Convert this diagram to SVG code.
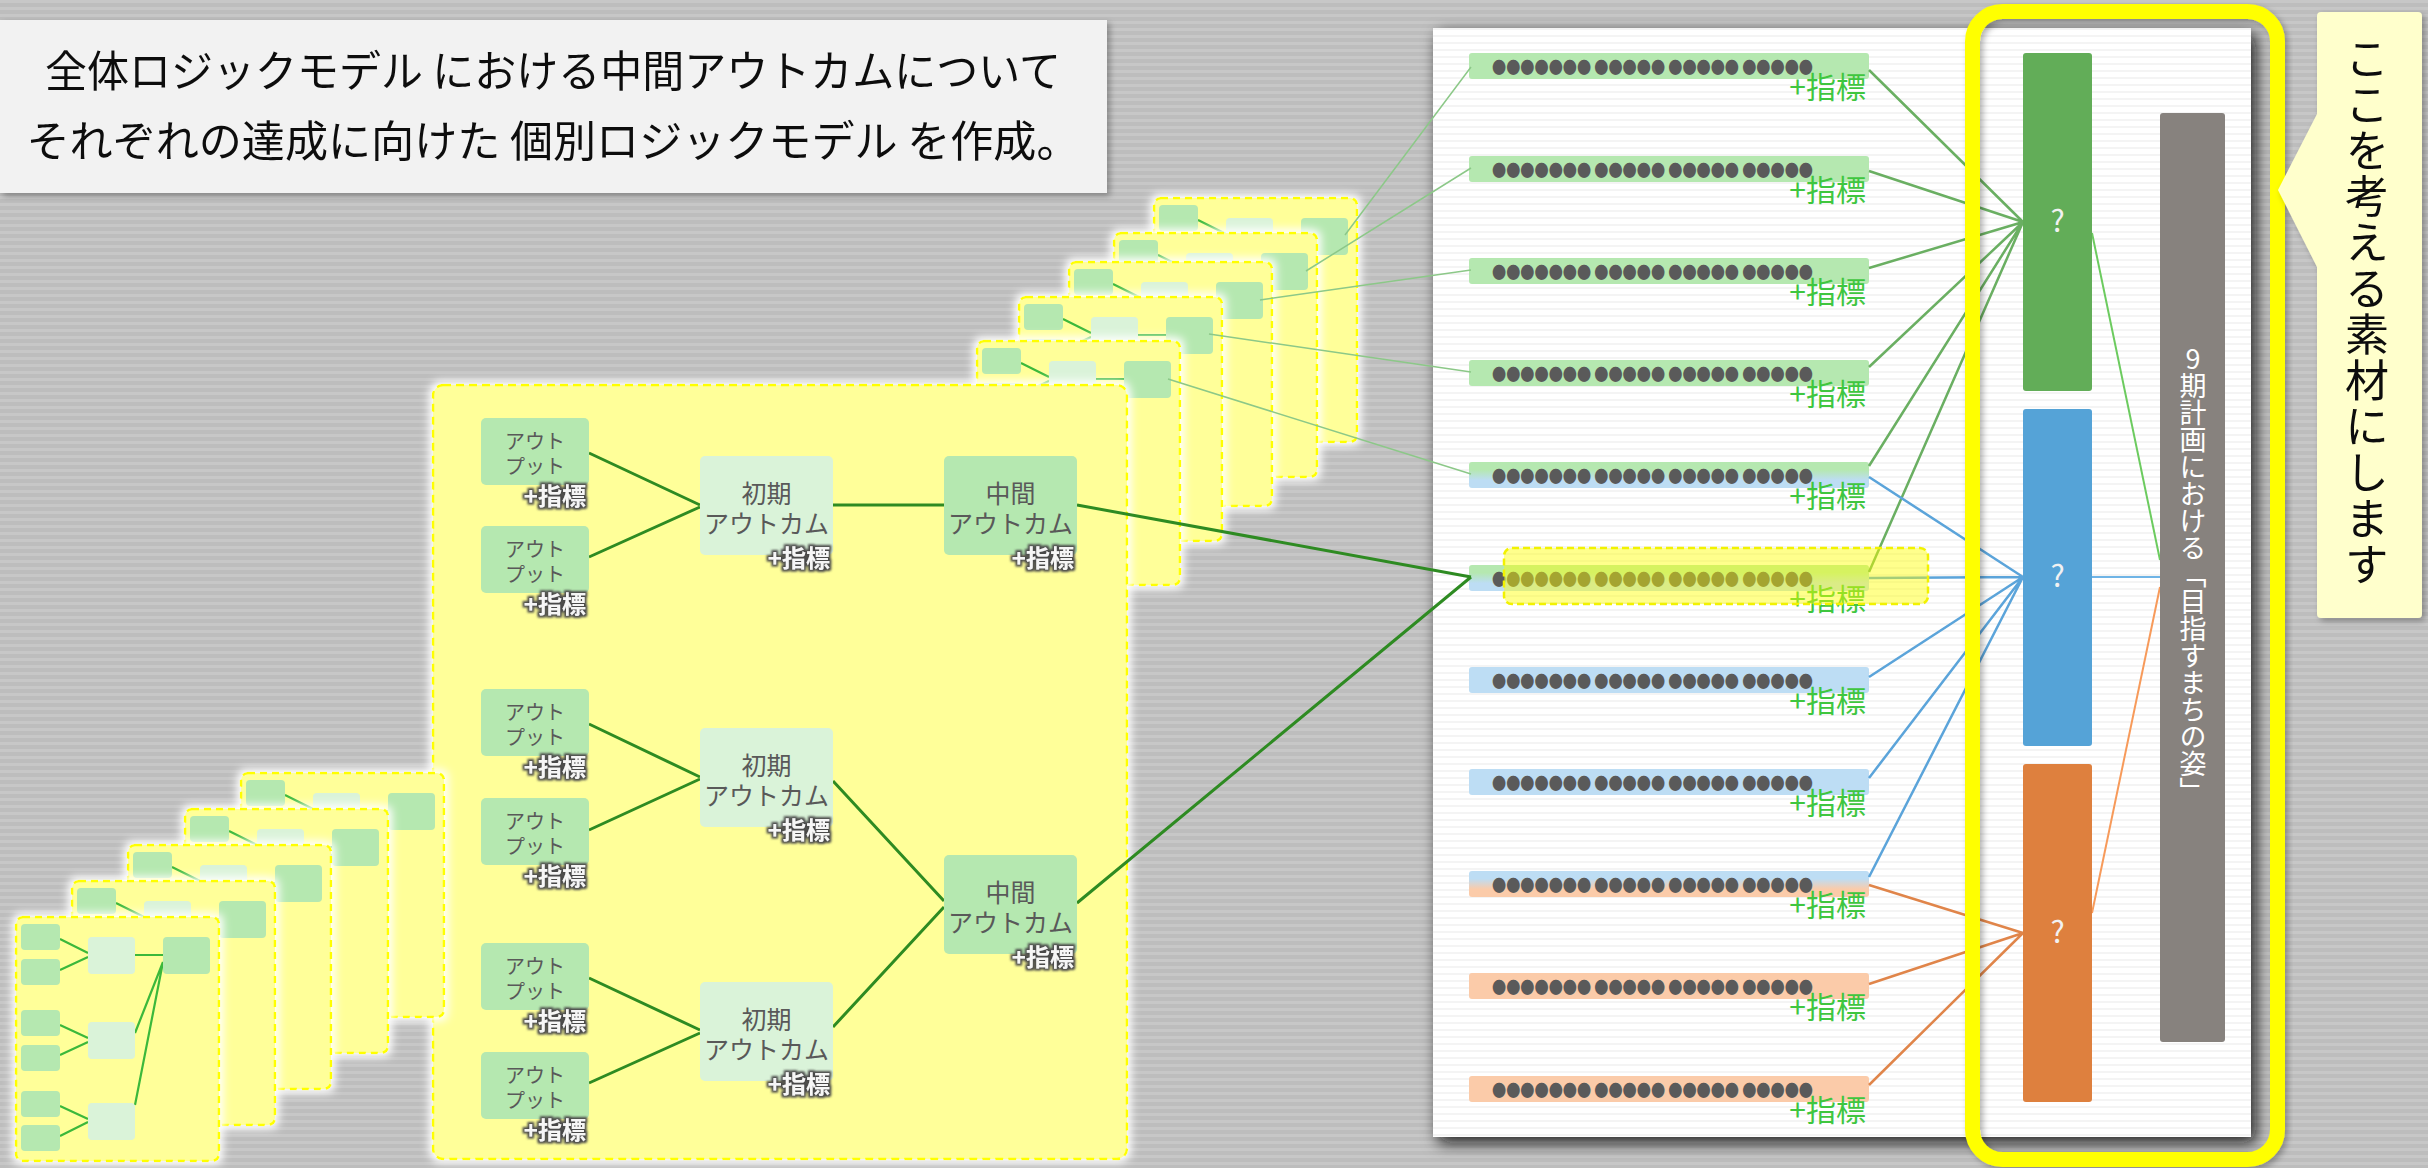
<svg xmlns="http://www.w3.org/2000/svg" xmlns:xlink="http://www.w3.org/1999/xlink" width="2428" height="1168" viewBox="0 0 2428 1168">
<defs>
<style>
text{font-family:"Noto Sans CJK JP","Noto Sans",sans-serif;}
.out{fill:#B5E8B0;}
.ini{fill:#DAF3D9;}
.nt{font-size:20px;fill:#595959;text-anchor:middle;}
.nt2{font-size:25px;fill:#595959;text-anchor:middle;}
.idx{font-size:24px;font-weight:bold;fill:#F6F6F6;text-anchor:end;filter:url(#halo);}
.dots{font-size:17px;fill:#5A5A5A;dominant-baseline:central;}
.ind{font-size:30px;fill:#3FC63F;text-anchor:end;}
.q{font-size:30px;fill:#F2F2F2;text-anchor:middle;}
.cl{fill:none;stroke:#2E8B22;stroke-width:3;}
.sl{fill:none;stroke:#8CC888;stroke-width:1.5;}
.lg{fill:none;stroke:#6AAF62;stroke-width:2.5;}
.lb{fill:none;stroke:#5BA4DA;stroke-width:2.5;}
.lo{fill:none;stroke:#E0854A;stroke-width:2.5;}
</style>
<pattern id="bg" width="20" height="7" patternUnits="userSpaceOnUse">
<rect width="20" height="7" fill="#BDBDBD"/>
<rect width="20" height="3" fill="#C7C7C7"/>
</pattern>
<pattern id="pbg" width="20" height="7" patternUnits="userSpaceOnUse">
<rect width="20" height="7" fill="#FFFFFF"/>
<rect width="20" height="2" fill="#F4F4F4"/>
</pattern>
<linearGradient id="gGB" x1="0" y1="0" x2="0" y2="1"><stop offset="0.3" stop-color="#B5E8B0"/><stop offset="0.7" stop-color="#BDDDF4"/></linearGradient>
<linearGradient id="gBO" x1="0" y1="0" x2="0" y2="1"><stop offset="0.3" stop-color="#BDDDF4"/><stop offset="0.7" stop-color="#FBCBA9"/></linearGradient>
<filter id="glow" x="-15%" y="-15%" width="130%" height="130%">
<feMorphology in="SourceAlpha" operator="dilate" radius="3" result="d"/>
<feGaussianBlur in="d" stdDeviation="4" result="b"/>
<feFlood flood-color="#FFFFFF"/>
<feComposite in2="b" operator="in" result="g"/>
<feMerge><feMergeNode in="g"/><feMergeNode in="SourceGraphic"/></feMerge>
</filter>
<filter id="halo" x="-20%" y="-40%" width="140%" height="180%">
<feMorphology in="SourceAlpha" operator="dilate" radius="2" result="d"/>
<feGaussianBlur in="d" stdDeviation="1.3" result="b"/>
<feFlood flood-color="#4A4A4A"/>
<feComposite in2="b" operator="in" result="g"/>
<feMerge><feMergeNode in="g"/><feMergeNode in="SourceGraphic"/></feMerge>
</filter>
<filter id="pshadow" x="-5%" y="-5%" width="110%" height="110%">
<feDropShadow dx="5" dy="6" stdDeviation="8" flood-color="#111" flood-opacity="0.9"/>
</filter>
<filter id="soft" x="-5%" y="-5%" width="110%" height="110%">
<feDropShadow dx="3" dy="3" stdDeviation="3" flood-color="#000" flood-opacity="0.3"/>
</filter>
<symbol id="mini" overflow="visible">
<rect x="0" y="0" width="203" height="244" rx="7" fill="#FFFF99" stroke="#FFFF00" stroke-width="2.5" stroke-dasharray="7 5"/>
<path d="M44,22 L72,36 M44,53 L72,40 M119,38 L147,38 M44,108 L72,121 M44,138 L72,125 M119,116 L147,45 M44,189 L72,202 M44,219 L72,205 M119,188 L147,45" fill="none" stroke="#3BB83B" stroke-width="2.2"/>
<g class="out">
<rect x="5" y="7" width="39" height="26" rx="4"/>
<rect x="5" y="42" width="39" height="26" rx="4"/>
<rect x="5" y="93" width="39" height="26" rx="4"/>
<rect x="5" y="128" width="39" height="26" rx="4"/>
<rect x="5" y="174" width="39" height="26" rx="4"/>
<rect x="5" y="208" width="39" height="26" rx="4"/>
<rect x="147" y="20" width="47" height="37" rx="4"/>
</g>
<g class="ini">
<rect x="72" y="20" width="47" height="37" rx="4"/>
<rect x="72" y="105" width="47" height="37" rx="4"/>
<rect x="72" y="186" width="47" height="37" rx="4"/>
</g>
</symbol>
</defs>

<rect width="2428" height="1168" fill="url(#bg)"/>

<g id="title" filter="url(#soft)">
<rect x="0" y="20" width="1107" height="173" fill="#F2F2F2"/>
<text x="553" y="87" font-size="43" fill="#111" text-anchor="middle" textLength="1016" lengthAdjust="spacingAndGlyphs">全体ロジックモデル における中間アウトカムについて</text>
<text x="553" y="157" font-size="43" fill="#111" text-anchor="middle" textLength="1053" lengthAdjust="spacingAndGlyphs">それぞれの達成に向けた 個別ロジックモデル を作成。</text>
</g>

<g id="upper-stack">
<use id="card-u5" href="#mini" x="1154" y="198" filter="url(#glow)"/>
<use id="card-u4" href="#mini" x="1114" y="233" filter="url(#glow)"/>
<use id="card-u3" href="#mini" x="1069" y="262" filter="url(#glow)"/>
<use id="card-u2" href="#mini" x="1019" y="297" filter="url(#glow)"/>
<use id="card-u1" href="#mini" x="977" y="341" filter="url(#glow)"/>
</g>

<g id="main-card" filter="url(#glow)">
<rect x="433" y="385" width="694" height="774" rx="10" fill="#FFFF99" stroke="#FFFF00" stroke-width="2.5" stroke-dasharray="8 5"/>
</g>

<g id="lower-stack">
<use id="card-l5" href="#mini" x="241" y="773" filter="url(#glow)"/>
<use id="card-l4" href="#mini" x="185" y="809" filter="url(#glow)"/>
<use id="card-l3" href="#mini" x="128" y="845" filter="url(#glow)"/>
<use id="card-l2" href="#mini" x="72" y="881" filter="url(#glow)"/>
<use id="card-l1" href="#mini" x="16" y="917" filter="url(#glow)"/>
</g>

<g id="panel">
<rect x="1433" y="28" width="818" height="1109" fill="url(#pbg)" filter="url(#pshadow)"/>
</g>

<g id="items">
<g id="item1"><rect x="1469" y="53" width="400" height="26" rx="3" fill="#B5E8B0"/><text class="dots" x="1492" y="66" textLength="321" lengthAdjust="spacingAndGlyphs">●●●●●●● ●●●●● ●●●●● ●●●●●</text><text class="ind" x="1866" y="98">+指標</text></g>
<g id="item2"><rect x="1469" y="156" width="400" height="26" rx="3" fill="#B5E8B0"/><text class="dots" x="1492" y="169" textLength="321" lengthAdjust="spacingAndGlyphs">●●●●●●● ●●●●● ●●●●● ●●●●●</text><text class="ind" x="1866" y="201">+指標</text></g>
<g id="item3"><rect x="1469" y="258" width="400" height="26" rx="3" fill="#B5E8B0"/><text class="dots" x="1492" y="271" textLength="321" lengthAdjust="spacingAndGlyphs">●●●●●●● ●●●●● ●●●●● ●●●●●</text><text class="ind" x="1866" y="303">+指標</text></g>
<g id="item4"><rect x="1469" y="360" width="400" height="26" rx="3" fill="#B5E8B0"/><text class="dots" x="1492" y="373" textLength="321" lengthAdjust="spacingAndGlyphs">●●●●●●● ●●●●● ●●●●● ●●●●●</text><text class="ind" x="1866" y="405">+指標</text></g>
<g id="item5"><rect x="1469" y="462" width="400" height="26" rx="3" fill="url(#gGB)"/><text class="dots" x="1492" y="475" textLength="321" lengthAdjust="spacingAndGlyphs">●●●●●●● ●●●●● ●●●●● ●●●●●</text><text class="ind" x="1866" y="507">+指標</text></g>
<g id="item6"><rect x="1469" y="565" width="400" height="26" rx="3" fill="url(#gGB)"/><text class="dots" x="1492" y="578" textLength="321" lengthAdjust="spacingAndGlyphs">●●●●●●● ●●●●● ●●●●● ●●●●●</text><text class="ind" x="1866" y="610">+指標</text></g>
<g id="item7"><rect x="1469" y="667" width="400" height="26" rx="3" fill="#BDDDF4"/><text class="dots" x="1492" y="680" textLength="321" lengthAdjust="spacingAndGlyphs">●●●●●●● ●●●●● ●●●●● ●●●●●</text><text class="ind" x="1866" y="712">+指標</text></g>
<g id="item8"><rect x="1469" y="769" width="400" height="26" rx="3" fill="#BDDDF4"/><text class="dots" x="1492" y="782" textLength="321" lengthAdjust="spacingAndGlyphs">●●●●●●● ●●●●● ●●●●● ●●●●●</text><text class="ind" x="1866" y="814">+指標</text></g>
<g id="item9"><rect x="1469" y="871" width="400" height="26" rx="3" fill="url(#gBO)"/><text class="dots" x="1492" y="884" textLength="321" lengthAdjust="spacingAndGlyphs">●●●●●●● ●●●●● ●●●●● ●●●●●</text><text class="ind" x="1866" y="916">+指標</text></g>
<g id="item10"><rect x="1469" y="973" width="400" height="26" rx="3" fill="#FBCBA9"/><text class="dots" x="1492" y="986" textLength="321" lengthAdjust="spacingAndGlyphs">●●●●●●● ●●●●● ●●●●● ●●●●●</text><text class="ind" x="1866" y="1018">+指標</text></g>
<g id="item11"><rect x="1469" y="1076" width="400" height="26" rx="3" fill="#FBCBA9"/><text class="dots" x="1492" y="1089" textLength="321" lengthAdjust="spacingAndGlyphs">●●●●●●● ●●●●● ●●●●● ●●●●●</text><text class="ind" x="1866" y="1121">+指標</text></g>
</g>

<g id="connectors">
<path class="cl" d="M589,453 L700,505 M589,557 L700,507 M833,505 L944,505 M589,724 L700,777 M589,830 L700,779 M833,781 L944,901 M589,978 L700,1030 M589,1083 L700,1033 M833,1027 L944,907"/>
<path class="cl" d="M1077,505 L1471,577 M1077,903 L1471,577"/>
<path class="sl" d="M1345,235 L1471,67 M1306,271 L1471,168 M1260,300 L1471,270 M1209,334 L1471,372 M1168,379 L1471,474"/>
<path class="lg" d="M1869,70 L2023,222 M1869,171 L2023,222 M1869,268 L2023,222 M1869,367 L2023,222 M1869,466 L2023,222 M1869,572 L2023,222"/>
<path class="lb" d="M1869,477 L2023,577 M1869,578 L2023,577 M1869,677 L2023,577 M1869,778 L2023,577 M1869,877 L2023,577"/>
<path class="lo" d="M1869,885 L2023,933 M1869,984 L2023,933 M1869,1085 L2023,933"/>
<path d="M2092,233 L2160,560" fill="none" stroke="#6CCB5F" stroke-width="2"/>
<path d="M2092,577 L2160,577" fill="none" stroke="#6FB4E6" stroke-width="2"/>
<path d="M2092,913 L2160,587" fill="none" stroke="#F79A5A" stroke-width="2"/>
</g>

<g id="main-nodes">
<g id="out1"><rect class="out" x="481" y="418" width="108" height="67" rx="5"/><text class="nt" x="535" y="449">アウト</text><text class="nt" x="535" y="474">プット</text><text class="idx" x="586" y="505">+指標</text></g>
<g id="out2"><rect class="out" x="481" y="526" width="108" height="67" rx="5"/><text class="nt" x="535" y="557">アウト</text><text class="nt" x="535" y="582">プット</text><text class="idx" x="586" y="613">+指標</text></g>
<g id="out3"><rect class="out" x="481" y="689" width="108" height="67" rx="5"/><text class="nt" x="535" y="720">アウト</text><text class="nt" x="535" y="745">プット</text><text class="idx" x="586" y="776">+指標</text></g>
<g id="out4"><rect class="out" x="481" y="798" width="108" height="67" rx="5"/><text class="nt" x="535" y="829">アウト</text><text class="nt" x="535" y="854">プット</text><text class="idx" x="586" y="885">+指標</text></g>
<g id="out5"><rect class="out" x="481" y="943" width="108" height="67" rx="5"/><text class="nt" x="535" y="974">アウト</text><text class="nt" x="535" y="999">プット</text><text class="idx" x="586" y="1030">+指標</text></g>
<g id="out6"><rect class="out" x="481" y="1052" width="108" height="67" rx="5"/><text class="nt" x="535" y="1083">アウト</text><text class="nt" x="535" y="1108">プット</text><text class="idx" x="586" y="1139">+指標</text></g>
<g id="init1"><rect class="ini" x="700" y="456" width="133" height="99" rx="5"/><text class="nt2" x="766.5" y="503">初期</text><text class="nt2" x="766.5" y="533">アウトカム</text><text class="idx" x="830" y="567">+指標</text></g>
<g id="init2"><rect class="ini" x="700" y="728" width="133" height="99" rx="5"/><text class="nt2" x="766.5" y="775">初期</text><text class="nt2" x="766.5" y="805">アウトカム</text><text class="idx" x="830" y="839">+指標</text></g>
<g id="init3"><rect class="ini" x="700" y="982" width="133" height="99" rx="5"/><text class="nt2" x="766.5" y="1029">初期</text><text class="nt2" x="766.5" y="1059">アウトカム</text><text class="idx" x="830" y="1093">+指標</text></g>
<g id="mid1"><rect class="out" x="944" y="456" width="133" height="99" rx="5"/><text class="nt2" x="1010.5" y="503">中間</text><text class="nt2" x="1010.5" y="533">アウトカム</text><text class="idx" x="1074" y="567">+指標</text></g>
<g id="mid2"><rect class="out" x="944" y="855" width="133" height="99" rx="5"/><text class="nt2" x="1010.5" y="902">中間</text><text class="nt2" x="1010.5" y="932">アウトカム</text><text class="idx" x="1074" y="966">+指標</text></g>
</g>

<g id="highlight">
<rect x="1504" y="548" width="424" height="56" rx="8" fill="#FFFF00" fill-opacity="0.45" stroke="#F2F200" stroke-width="2.5" stroke-dasharray="7 4"/>
</g>

<g id="bar-green"><rect x="2023" y="53" width="69" height="338" rx="3" fill="#62AD58"/><text class="q" x="2057.5" y="232">?</text></g>
<g id="bar-blue"><rect x="2023" y="409" width="69" height="337" rx="3" fill="#55A3D7"/><text class="q" x="2057.5" y="587">?</text></g>
<g id="bar-orange"><rect x="2023" y="764" width="69" height="338" rx="3" fill="#DE803E"/><text class="q" x="2057.5" y="943">?</text></g>
<g id="bar-gray"><rect x="2160" y="113" width="65" height="929" rx="3" fill="#87827E"/><text x="2193" y="345" font-size="27" fill="#FFFFFF" style="writing-mode:vertical-rl;text-orientation:upright">9期計画における「目指すまちの姿」</text></g>

<g id="frame" filter="url(#soft)">
<rect x="1972.5" y="11.5" width="305" height="1148" rx="30" fill="none" stroke="#FFFF00" stroke-width="15"/>
</g>

<g id="callout" filter="url(#soft)">
<path d="M2321,12 H2418 Q2422,12 2422,16 V614 Q2422,618 2418,618 H2321 Q2317,618 2317,614 V267 L2278,190 L2317,114 V16 Q2317,12 2321,12 Z" fill="#FFFFCC"/>
<text x="2367" y="36" font-size="44" fill="#111" letter-spacing="2" style="writing-mode:vertical-rl;text-orientation:upright">ここを考える素材にします</text>
</g>
</svg>
